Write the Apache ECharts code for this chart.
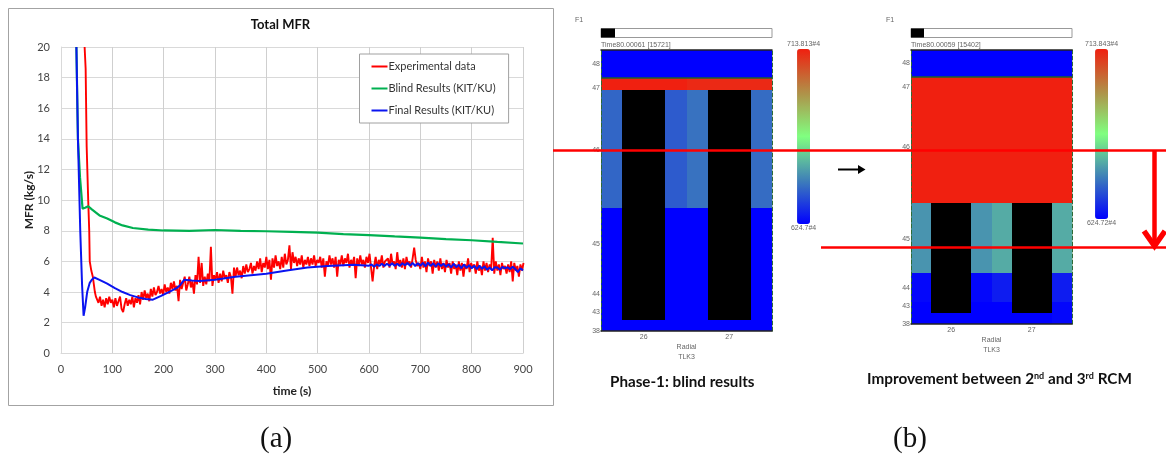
<!DOCTYPE html>
<html>
<head>
<meta charset="utf-8">
<title>Total MFR</title>
<script src="https://cdn.jsdelivr.net/npm/echarts@6/dist/echarts.min.js"></script>
<style>
  html, body { margin: 0; padding: 0; background: #fff; }
  #chart { width: 1166px; height: 454px; filter: blur(0.35px); }
</style>
</head>
<body>
<div id="chart"></div>
<script>
// (a) total mass flow rate
const expHeadTime = [46, 48, 50, 53, 55, 56, 59, 62, 64, 66, 68]
const expHeadValues = [20, 18.6, 13.5, 10, 8, 6, 5.4, 5, 4.5, 4, 3.7]
const expStartTime = 70
const expStep = 3
const expValues = [
  3.6, 3.3, 3.7, 3.1, 3.5, 3.0, 3.6, 3.2, 3.7, 3.3,
  3.5, 3.0, 3.6, 3.1, 3.4, 3.7, 2.9, 2.7, 3.2, 3.6,
  3.1, 3.5, 3.2, 3.7, 3.0, 3.6, 3.3, 3.8, 3.2, 4.0,
  3.5, 4.1, 3.6, 3.9, 3.4, 4.2, 3.7, 4.3, 3.8, 4.0,
  4.4, 3.9, 4.2, 3.8, 4.5, 4.0, 4.3, 3.9, 4.6, 4.2,
  4.7, 4.1, 4.4, 3.4, 4.8, 4.2, 4.6, 5.0, 4.1, 4.5,
  5.0, 4.3, 4.7, 3.9, 5.1, 4.5, 6.3, 4.6, 5.9, 4.4,
  5.0, 4.5, 5.2, 4.7, 6.95, 4.4, 5.1, 4.8, 5.3, 4.6,
  5.2, 4.7, 5.4, 4.9, 5.1, 4.6, 5.3, 5.0, 3.9, 5.6,
  5.0, 5.6, 5.1, 5.4, 4.9, 5.7, 5.2, 5.8, 5.3, 5.5,
  5.9, 5.2, 5.7, 5.4, 6.0, 5.5, 6.2, 5.3, 5.9, 5.6,
  6.3, 5.5, 6.1, 4.8, 6.2, 5.6, 6.4, 5.7, 6.0, 5.5,
  6.3, 5.6, 6.5, 5.8, 6.1, 7.05, 5.5, 6.6, 5.9, 6.3,
  5.7, 6.2, 5.8, 6.4, 5.6, 6.1, 5.8, 6.3, 5.7, 6.2,
  5.8, 6.4, 5.7, 6.1, 5.9, 6.3, 5.6, 6.2, 5.0, 6.0,
  5.7, 6.4, 5.8, 6.2, 5.6, 6.3, 5.0, 6.1, 5.8, 6.4,
  5.7, 6.2, 5.9, 6.5, 5.6, 6.1, 5.8, 6.3, 4.9, 6.2,
  5.7, 6.4, 5.8, 6.1, 5.6, 6.3, 5.9, 6.5, 5.6, 4.7,
  5.7, 6.3, 5.5, 6.1, 5.8, 6.4, 5.6, 6.0, 5.9, 6.2,
  5.6, 6.5, 5.8, 6.0, 5.5, 6.6, 5.7, 6.1, 5.6, 6.2,
  5.5, 6.3, 5.8, 6.0, 5.6, 6.2, 6.9, 6.1, 5.7, 5.9,
  5.5, 6.3, 5.6, 6.0, 5.3, 6.2, 5.7, 6.0, 5.2, 6.1,
  5.6, 6.0, 5.4, 6.2, 5.5, 5.9, 5.3, 6.1, 5.6, 5.9,
  5.2, 6.0, 5.5, 5.8, 5.1, 6.0, 5.4, 5.9, 5.0, 5.8,
  5.5, 6.2, 5.3, 5.9, 5.6, 5.8, 5.2, 6.0, 5.4, 5.7,
  5.1, 6.0, 5.4, 5.9, 5.3, 5.8, 5.5, 7.55, 5.2, 6.0,
  5.4, 5.8, 5.1, 5.9, 5.5, 5.7, 5.2, 5.8, 5.3, 6.0,
  4.7, 5.9, 5.4, 5.7, 5.0, 5.8, 5.4, 5.9
]

const blindTime = [30, 33, 37, 42, 47, 53, 60, 75, 90, 105, 120, 140, 170, 200, 250, 300, 350, 400, 450, 500, 550, 600, 650, 700, 750, 800, 850, 900]
const blindValues = [20, 14, 11.5, 9.45, 9.5, 9.6, 9.4, 9.0, 8.8, 8.55, 8.35, 8.18, 8.07, 8.02, 8.0, 8.05, 8.0, 7.97, 7.93, 7.88, 7.78, 7.72, 7.63, 7.55, 7.45, 7.38, 7.27, 7.17]

const finalTime = [30, 33, 37.5, 41, 44, 47, 51, 56, 60, 65, 75, 90, 105, 120, 135, 150, 165, 179, 195, 210, 225, 232, 240, 255, 270, 300, 340, 370, 400, 440, 480, 520, 570, 600,
  605, 610, 615, 620, 625, 630, 635, 640, 645, 650, 655, 660, 665, 670, 675, 680, 685, 690, 695, 700,
  705, 710, 715, 720, 725, 730, 735, 740, 745, 750, 755, 760, 765, 770, 775, 780, 785, 790, 795, 800,
  805, 810, 815, 820, 825, 830, 835, 840, 845, 850, 855, 860, 865, 870, 875, 880, 885, 890, 895, 900]
const finalValues = [20, 14, 8, 4.5, 2.45, 3, 4, 4.6, 4.8, 4.95, 4.8, 4.55, 4.25, 4, 3.8, 3.65, 3.55, 3.5, 3.75, 4.0, 4.25, 4.45, 4.8, 4.75, 4.72, 4.8, 5.0, 5.1, 5.2, 5.4, 5.6, 5.7, 5.78, 5.72,
  5.8, 5.65, 5.8, 5.7, 5.85, 5.7, 5.85, 5.72, 5.88, 5.72, 5.85, 5.7, 5.88, 5.75, 5.9, 5.72, 5.9, 5.7, 5.88, 5.72,
  5.9, 5.68, 5.92, 5.7, 5.88, 5.65, 5.88, 5.7, 5.85, 5.65, 5.82, 5.6, 5.85, 5.62, 5.78, 5.55, 5.8, 5.58, 5.75, 5.55,
  5.72, 5.5, 5.72, 5.52, 5.68, 5.45, 5.6, 5.42, 5.62, 5.6, 5.45, 5.65, 5.55, 5.62, 5.5, 5.65, 5.5, 5.3, 5.55, 5.4]

const seriesNames = ['Experimental data', 'Blind Results (KIT/KU)', 'Final Results (KIT/KU)']

// (b) temperature cells of the two TH maps
const radialEdges = [25.5, 25.75, 26.25, 26.5, 26.75, 27.25, 27.5]
const rodColumns = [[25.75, 26.25], [26.75, 27.25]]
const axialTicks = [0, 18.7, 36.7, 86.7, 180.7, 242.7, 266.7]
const axialTickLabels = ['38', '43', '44', '45', '46', '47', '48']
const axialMax = 281

const blindRowEdges = [0, 123.4, 241, 253, 281]
const blindTemps = [
  [624.7, 624.7, 624.7, 624.7, 624.7, 624.7],
  [642.5, 642.5, 640.5, 644.5, 644.5, 643.5],
  [713.8, 713.8, 713.8, 712, 712, 712],
  [624.7, 624.7, 624.7, 624.7, 624.7, 624.7]
]
const blindRodTop = 241
const blindRodBottom = 11.5
const blindLinerTop = 253

const finalRowEdges = [0, 22.8, 51.9, 123.4, 253, 281]
const finalTemps = [
  [624.7, 624.7, 624.7, 624.7, 624.7, 626],
  [626, 626, 626, 629.5, 629.5, 629.5],
  [650.5, 650.5, 650.5, 654.5, 654.5, 654.5],
  [713.8, 713.8, 713.8, 713.8, 713.8, 713.8],
  [624.7, 624.7, 624.7, 624.7, 624.7, 624.7]
]
const finalRodTop = 123.4
const finalRodBottom = 11.3
const finalLinerTop = 253.5

const scaleColors = ['#0000ff', '#3f80b8', '#80ff80', '#b09048', '#f02010']

const FONT = 'Lato'
const SMALL = 'Liberation Sans'

const buildCells = (rowEdges, temps) => {
  const cells = []
  temps.forEach((row, r) => {
    row.forEach((temp, c) => {
      cells.push([radialEdges[c], radialEdges[c + 1], rowEdges[r], rowEdges[r + 1], temp])
    })
  })
  return cells
}

const buildRods = (bottom, top) => rodColumns.map(c => [c[0], c[1], bottom, top])

// cell is [x0, x1, y0, y1], drawn through the axes of its grid; rounded so no seams show
const renderCell = (params, api) => {
  const a = api.coord([api.value(0), api.value(3)]).map(Math.round)
  const b = api.coord([api.value(1), api.value(2)]).map(Math.round)
  return {
    type: 'rect',
    shape: { x: a[0], y: a[1], width: b[0] - a[0], height: b[1] - a[1] },
    style: { fill: api.visual('color') }
  }
}

const zip = (xs, ys) => xs.map((x, i) => [x, ys[i]])
const expData = zip(expHeadTime, expHeadValues).concat(expValues.map((v, i) => [expStartTime + i * expStep, v]))

const lineSeries = (name, data, color, width) => ({
  name,
  type: 'line',
  data,
  xAxisIndex: 0,
  yAxisIndex: 0,
  showSymbol: false,
  lineStyle: { color, width },
  itemStyle: { color },
  emphasis: { disabled: true }
})

const heatSeries = (xIdx, yIdx, rowEdges, temps) => ({
  type: 'custom',
  xAxisIndex: xIdx,
  yAxisIndex: yIdx,
  renderItem: renderCell,
  encode: { x: [0, 1], y: [2, 3] },
  data: buildCells(rowEdges, temps),
  silent: true,
  z: 2
})

const rodSeries = (xIdx, yIdx, bottom, top, linerTop) => ({
  type: 'custom',
  xAxisIndex: xIdx,
  yAxisIndex: yIdx,
  renderItem: renderCell,
  encode: { x: [0, 1], y: [2, 3] },
  data: buildRods(bottom, top),
  itemStyle: { color: '#000' },
  silent: true,
  z: 3,
  markLine: {
    silent: true,
    symbol: 'none',
    animation: false,
    label: { show: false },
    lineStyle: { color: '#1f5f2a', width: 1.5, type: 'solid' },
    data: [{ yAxis: linerTop }]
  }
})

const panelAxes = (gridIndex) => {
  const radial = {
    type: 'value',
    gridIndex,
    min: 25.5,
    max: 27.5,
    z: 5,
    name: 'Radial\nTLK3',
    nameLocation: 'middle',
    nameGap: 11,
    nameMoveOverlap: false,
    nameTextStyle: { fontFamily: SMALL, fontSize: 7, color: '#666', lineHeight: 10 },
    axisLine: { show: true, onZero: false, lineStyle: { color: '#222', width: 1.5 } },
    axisTick: { show: false },
    splitLine: { show: false },
    axisLabel: { customValues: [26, 27], margin: 3, fontFamily: SMALL, fontSize: 7, color: '#666' }
  }
  const top = {
    type: 'value',
    gridIndex,
    position: 'top',
    min: 25.5,
    max: 27.5,
    z: 5,
    axisLine: { show: true, onZero: false, lineStyle: { color: '#222', width: 1.5 } },
    axisTick: { show: false },
    axisLabel: { show: false },
    splitLine: { show: false }
  }
  const axial = {
    type: 'value',
    gridIndex,
    min: 0,
    max: axialMax,
    z: 5,
    axisLine: { show: true, onZero: false, lineStyle: { color: '#2f6b35', width: 1, type: 'dashed' } },
    axisTick: { show: false },
    splitLine: { show: false },
    axisLabel: {
      customValues: axialTicks,
      margin: 1,
      fontFamily: SMALL,
      fontSize: 7,
      color: '#666',
      formatter: v => axialTickLabels[axialTicks.indexOf(v)]
    }
  }
  const wall = {
    type: 'value',
    gridIndex,
    position: 'right',
    min: 0,
    max: axialMax,
    z: 5,
    axisLine: { show: true, onZero: false, lineStyle: { color: '#2f6b35', width: 1, type: 'dashed' } },
    axisTick: { show: false },
    axisLabel: { show: false },
    splitLine: { show: false }
  }
  return { x: [radial, top], y: [axial, wall] }
}

const blindAxes = panelAxes(1)
const finalAxes = panelAxes(2)

const colorScale = (seriesIndex, left, height, text) => ({
  type: 'continuous',
  seriesIndex,
  dimension: 4,
  min: 624.7,
  max: 713.8,
  left,
  top: 26,
  itemWidth: 13,
  itemHeight: height,
  text,
  textGap: 1,
  hoverLink: false,
  calculable: false,
  textStyle: { fontFamily: SMALL, fontSize: 7, color: '#666' },
  inRange: { color: scaleColors }
})

const smallText = (x, y, text) => ({
  type: 'text', x, y,
  style: { text, fill: '#666', font: `7px "${SMALL}"`, textVerticalAlign: 'middle' }
})

const progressBar = (x, width, done) => [
  { type: 'rect', shape: { x, y: 28.5, width, height: 9 }, style: { fill: '#fff', stroke: '#999', lineWidth: 1 } },
  { type: 'rect', shape: { x, y: 28.5, width: done, height: 9 }, style: { fill: '#000' } }
]

const annotations = [
  { type: 'rect', z: -1, shape: { x: 8.5, y: 8.5, width: 545, height: 397 }, style: { fill: '#fff', stroke: '#a3a3a3', lineWidth: 1 } },
  smallText(575, 20, 'F1'),
  smallText(886, 20, 'F1'),
  ...progressBar(601, 171, 14),
  ...progressBar(911, 161, 13),
  smallText(601, 45, 'Time80.00061 [15721]'),
  smallText(911, 45, 'Time80.00059 [15402]'),
  {
    type: 'text', x: 610, y: 382,
    style: { text: 'Phase-1: blind results', fill: '#111', font: `bold 15.2px "${FONT}"`, textVerticalAlign: 'middle' }
  },
  {
    type: 'text', x: 867, y: 379,
    style: {
      text: '{n|Improvement between 2}{s|nd}{n| and 3}{s|rd}{n| RCM}',
      rich: {
        n: { fontFamily: FONT, fontWeight: 'bold', fontSize: 15.3, fill: '#111', color: '#111' },
        s: { fontFamily: FONT, fontWeight: 'bold', fontSize: 9, fill: '#111', color: '#111', verticalAlign: 'top', padding: [0, 0, 6, 0] }
      },
      textVerticalAlign: 'middle'
    }
  },
  { type: 'text', x: 260, y: 439, style: { text: '(a)', fill: '#111', font: '29px "Liberation Serif"', textVerticalAlign: 'middle' } },
  { type: 'text', x: 893, y: 439, style: { text: '(b)', fill: '#111', font: '29px "Liberation Serif"', textVerticalAlign: 'middle' } },
  { type: 'line', z: 20, shape: { x1: 553, y1: 150.5, x2: 1166, y2: 150.5 }, style: { stroke: '#ff0000', lineWidth: 2.5 } },
  { type: 'line', z: 20, shape: { x1: 821, y1: 247.5, x2: 1166, y2: 247.5 }, style: { stroke: '#ff0000', lineWidth: 2.5 } },
  { type: 'line', z: 20, shape: { x1: 1154.5, y1: 151, x2: 1154.5, y2: 245 }, style: { stroke: '#ff0000', lineWidth: 4.5 } },
  { type: 'polyline', z: 20, shape: { points: [[1144, 231], [1154.5, 246], [1165, 231]] }, style: { fill: 'none', stroke: '#ff0000', lineWidth: 5.5 } },
  { type: 'line', z: 20, shape: { x1: 838, y1: 169.5, x2: 860, y2: 169.5 }, style: { stroke: '#000', lineWidth: 2 } },
  { type: 'polygon', z: 20, shape: { points: [[858, 165], [865.5, 169.5], [858, 174]] }, style: { fill: '#000' } }
]

const chart = echarts.init(document.getElementById('chart'), null, { renderer: 'canvas' })

chart.setOption({
  animation: false,
  backgroundColor: '#fff',
  title: {
    text: 'Total MFR',
    left: 280.5,
    top: 18,
    padding: 0,
    textAlign: 'center',
    textStyle: { fontFamily: FONT, fontSize: 13, fontWeight: 'bold', color: '#111' }
  },
  legend: {
    data: seriesNames,
    orient: 'vertical',
    left: 359.5,
    top: 54,
    padding: [7, 13, 7, 12],
    itemGap: 11,
    itemWidth: 16,
    itemHeight: 2,
    icon: 'rect',
    backgroundColor: '#fff',
    borderColor: '#a0a0a0',
    borderWidth: 1,
    selectedMode: false,
    textStyle: { fontFamily: FONT, fontSize: 11, color: '#333', padding: [0, 0, 0, -4] }
  },
  grid: [
    { left: 61, top: 47, width: 462, height: 306.3 },
    { left: 601, top: 50, width: 171, height: 281 },
    { left: 911, top: 49.5, width: 161, height: 274.5 }
  ],
  xAxis: [
    {
      type: 'value',
      gridIndex: 0,
      min: 0,
      max: 900,
      interval: 100,
      name: 'time (s)',
      nameLocation: 'middle',
      nameGap: 32,
      nameMoveOverlap: false,
      nameTextStyle: { fontFamily: FONT, fontSize: 12, fontWeight: 'bold', color: '#222' },
      axisLine: { lineStyle: { color: '#d9d9d9', width: 1 } },
      axisTick: { show: false },
      axisLabel: { fontFamily: FONT, fontSize: 11, color: '#444', margin: 11 },
      splitLine: { show: true, lineStyle: { color: '#cfcfcf', width: 1 } }
    },
    ...blindAxes.x,
    ...finalAxes.x
  ],
  yAxis: [
    {
      type: 'value',
      gridIndex: 0,
      min: 0,
      max: 20,
      interval: 2,
      name: 'MFR (kg/s)',
      nameLocation: 'middle',
      nameRotate: 90,
      nameGap: 26,
      nameMoveOverlap: false,
      nameTextStyle: { fontFamily: FONT, fontSize: 12, fontWeight: 'bold', color: '#222' },
      axisLine: { show: true, lineStyle: { color: '#d9d9d9', width: 1 } },
      axisTick: { show: false },
      axisLabel: { fontFamily: FONT, fontSize: 11, color: '#444', margin: 11 },
      splitLine: { show: true, lineStyle: { color: '#d9d9d9', width: 1.2 } }
    },
    ...blindAxes.y,
    ...finalAxes.y
  ],
  visualMap: [
    colorScale(3, 772, 175, ['713.813#4', '624.7#4']),
    colorScale(5, 1070, 170, ['713.843#4', '624.72#4'])
  ],
  series: [
    lineSeries(seriesNames[0], expData, '#ff0000', 1.9),
    lineSeries(seriesNames[1], zip(blindTime, blindValues), '#00b050', 2.2),
    lineSeries(seriesNames[2], zip(finalTime, finalValues), '#0a14f0', 2),
    heatSeries(1, 1, blindRowEdges, blindTemps),
    rodSeries(1, 1, blindRodBottom, blindRodTop, blindLinerTop),
    heatSeries(3, 3, finalRowEdges, finalTemps),
    rodSeries(3, 3, finalRodBottom, finalRodTop, finalLinerTop)
  ],
  graphic: annotations
})

window.addEventListener('resize', () => chart.resize())
</script>
</body>
</html>
